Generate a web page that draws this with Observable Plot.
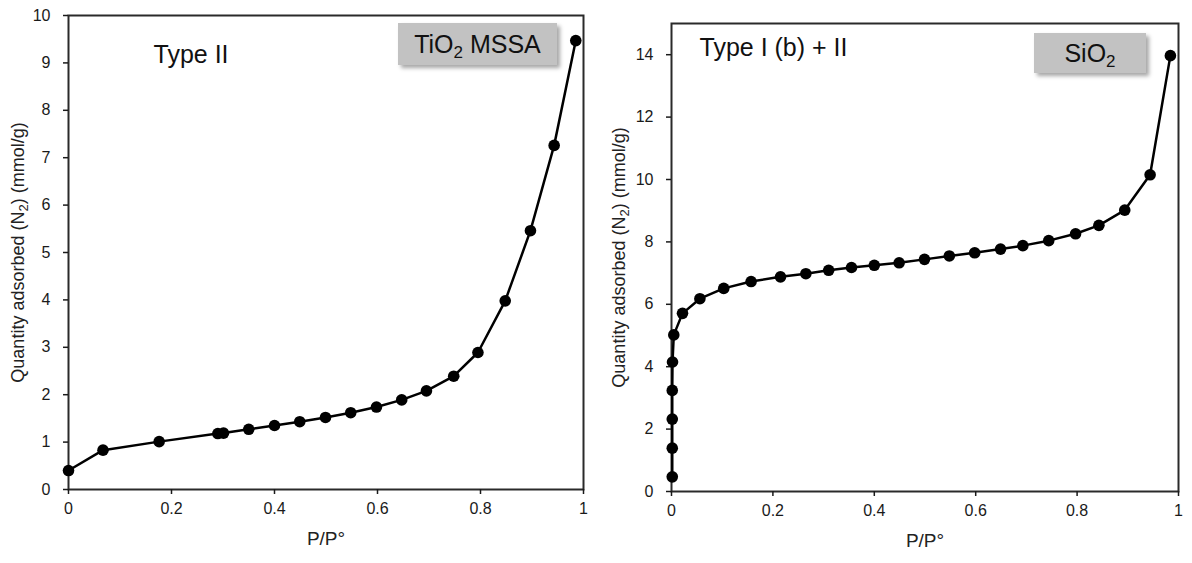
<!DOCTYPE html>
<html><head><meta charset="utf-8">
<script src="https://cdn.jsdelivr.net/npm/d3@7"></script>
<script src="https://cdn.jsdelivr.net/npm/@observablehq/plot@0.6"></script>
<style>
body{margin:0;background:#fff;}
#wrap{position:relative;width:1192px;height:563px;overflow:hidden;font-family:"Liberation Sans",Arial,sans-serif;background:#fff;}
.panel{position:absolute;top:0;}
.box{position:absolute;background:#c2c2c2;box-shadow:3px 3px 4px rgba(0,0,0,0.35);color:#111;font-size:25px;text-align:center;white-space:nowrap;}
.box sub{font-size:0.68em;vertical-align:-0.3em;line-height:0;}
</style></head>
<body><div id="wrap"></div>
<script>
// ---- data ----
const tioX = [0, 0.067, 0.176, 0.290, 0.301, 0.350, 0.400, 0.449, 0.499, 0.548, 0.598, 0.647, 0.695, 0.748, 0.795, 0.848, 0.897, 0.943, 0.985];
const tioY = [0.40, 0.83, 1.01, 1.18, 1.19, 1.27, 1.35, 1.43, 1.52, 1.62, 1.74, 1.89, 2.08, 2.39, 2.89, 3.98, 5.46, 7.26, 9.47];

const sioX = [0.0015, 0.0015, 0.0015, 0.0015, 0.002, 0.0045, 0.0217, 0.056, 0.103, 0.157, 0.215, 0.265, 0.310, 0.355, 0.400, 0.449, 0.499, 0.548, 0.598, 0.649, 0.693, 0.744, 0.797, 0.843, 0.894, 0.944, 0.984];
const sioY = [0.47, 1.39, 2.32, 3.24, 4.15, 5.02, 5.71, 6.18, 6.51, 6.73, 6.88, 6.98, 7.09, 7.18, 7.25, 7.33, 7.44, 7.55, 7.65, 7.77, 7.88, 8.04, 8.26, 8.53, 9.02, 10.15, 13.97];

const xTicks = [0, 0.2, 0.4, 0.6, 0.8, 1];
const tioYTicks = [0, 1, 2, 3, 4, 5, 6, 7, 8, 9, 10];
const sioYTicks = [0, 2, 4, 6, 8, 10, 12, 14];
const tioYDomain = [0, 10];
const sioYDomain = [0, 15];

const xLabel = "P/P°";
const yLabel = "Quantity adsorbed (N2) (mmol/g)";
const typeLabels = ["Type II", "Type I (b) + II"];
const sampleNames = ["TiO2 MSSA", "SiO2"];

// ---- drawing ----
const FONT = '"Liberation Sans", Arial, sans-serif';

function panel(opts) {
  const data = opts.xs.map((x, i) => ({x, y: opts.ys[i]}));
  const svg = Plot.plot({
    width: 596, height: 563,
    marginLeft: opts.m[0], marginRight: opts.m[1], marginTop: opts.m[2], marginBottom: opts.m[3],
    style: {fontFamily: FONT, fontSize: "16px", color: "#1a1a1a", background: "transparent", overflow: "visible"},
    x: {domain: [0, 1]},
    y: {domain: opts.yDomain},
    marks: [
      Plot.frame({stroke: "#2a2a2a", strokeWidth: 2}),
      Plot.axisX({ticks: xTicks, tickSize: 5, tickPadding: 8, tickFormat: d => String(+d.toFixed(1)), label: null, fontSize: 16, strokeWidth: 1.5}),
      Plot.axisY({ticks: opts.yTicks, tickSize: 5, tickPadding: 13, tickFormat: d => String(d), label: null, fontSize: 16, strokeWidth: 1.5}),
      Plot.line(data, {x: "x", y: "y", stroke: "#000", strokeWidth: 2.5}),
      Plot.dot(data, {x: "x", y: "y", r: 5.8, fill: "#000", stroke: "none"}),
      Plot.text([xLabel], {text: d => d, frameAnchor: "bottom", dy: 49, fontSize: 19, textAnchor: "middle", lineAnchor: "middle", fill: "#222"}),
      Plot.text([yLabel], {text: d => d, frameAnchor: "left", dx: opts.yLabelDx, rotate: -90, fontSize: 18, textAnchor: "middle", lineAnchor: "middle", fill: "#222"}),
      Plot.text([opts.typeLabel], {text: d => d, frameAnchor: "top-left", dx: opts.typeDx, dy: opts.typeDy, textAnchor: "start", lineAnchor: "top", fontSize: 25, fill: "#111"})
    ]
  });
  // subscript the 2 in (N2)
  d3.select(svg).selectAll("text").each(function() {
    if (this.textContent === yLabel) {
      const [a, b] = yLabel.split("N2");
      const t = d3.select(this);
      t.text(null).attr("text-anchor", "middle");
      t.append("tspan").text(a + "N");
      t.append("tspan").attr("dy", 4).attr("font-size", 13).text("2");
      t.append("tspan").attr("dy", -4).text(b);
    }
  });
  return svg;
}

const wrap = document.getElementById("wrap");
const left = document.createElement("div");
left.className = "panel"; left.style.left = "0px";
left.appendChild(panel({xs: tioX, ys: tioY, yDomain: tioYDomain, yTicks: tioYTicks, m: [68, 13, 15, 74],
  yLabelDx: -50, typeLabel: typeLabels[0], typeDx: 85, typeDy: 30}));
wrap.appendChild(left);

const right = document.createElement("div");
right.className = "panel"; right.style.left = "596px";
right.appendChild(panel({xs: sioX, ys: sioY, yDomain: sioYDomain, yTicks: sioYTicks, m: [75, 14, 23, 72],
  yLabelDx: -52, typeLabel: typeLabels[1], typeDx: 28, typeDy: 15}));
wrap.appendChild(right);

// sample name boxes
const boxes = [
  {name: sampleNames[0], left: 398, top: 23, width: 159, height: 42},
  {name: sampleNames[1], left: 1034, top: 33, width: 112, height: 40}
];
boxes.forEach(b => {
  const d = document.createElement("div");
  d.className = "box";
  Object.assign(d.style, {left: b.left + "px", top: b.top + "px", width: b.width + "px", height: b.height + "px", lineHeight: b.height + "px"});
  d.innerHTML = b.name.replace(/O2/, "O<sub>2</sub>");
  wrap.appendChild(d);
});
</script>
</body></html>
